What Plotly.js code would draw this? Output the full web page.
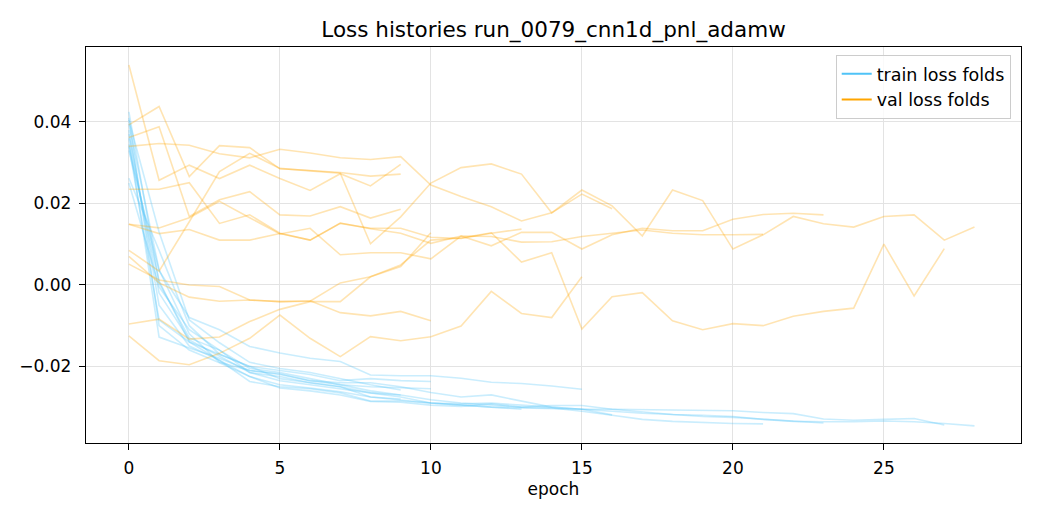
<!DOCTYPE html>
<html>
<head>
<meta charset="utf-8">
<script src="https://cdn.plot.ly/plotly-3.0.1.min.js"></script>
<style>
  html, body { margin: 0; padding: 0; background: #fff; }
  #chart { width: 1040px; height: 520px; }
</style>
</head>
<body>
<div id="chart"></div>
<script>
// loss per epoch, one array per fold
const train_folds = [
    [0.0405, 0.0130, -0.0086, -0.0142, -0.0190, -0.0205, -0.0215, -0.0230, -0.0245, -0.0258],
    [0.0425, 0.0005, -0.0130, -0.0160, -0.0205, -0.0215, -0.0230, -0.0245, -0.0260, -0.0270],
    [0.0370, -0.0020, -0.0135, -0.0175, -0.0215, -0.0225, -0.0240, -0.0250, -0.0275, -0.0280],
    [0.0395, 0.0037, -0.0120, -0.0190, -0.0210, -0.0218, -0.0235, -0.0240, -0.0240, -0.0250, -0.0264, -0.0275, -0.0270, -0.0285, -0.0300, -0.0305, -0.0319],
    [0.0410, -0.0100, -0.0160, -0.0191, -0.0225, -0.0253, -0.0260, -0.0270, -0.0286, -0.0288, -0.0295, -0.0298, -0.0292, -0.0300, -0.0296, -0.0296, -0.0305, -0.0312, -0.0318, -0.0320, -0.0323, -0.0330, -0.0335, -0.0336, -0.0336, -0.0334, -0.0336, -0.0340, -0.0346],
    [0.0262, 0.0085, -0.0100, -0.0170, -0.0200, -0.0230, -0.0240, -0.0250, -0.0265, -0.0275, -0.0290, -0.0295, -0.0300, -0.0305],
    [0.0345, 0.0010, -0.0140, -0.0185, -0.0237, -0.0250, -0.0255, -0.0265, -0.0285, -0.0285, -0.0290, -0.0295, -0.0300, -0.0302, -0.0303, -0.0305, -0.0310, -0.0315, -0.0318, -0.0323, -0.0325, -0.0330, -0.0335, -0.0339],
    [0.0250, -0.0005, -0.0110, -0.0160, -0.0215, -0.0235, -0.0245, -0.0255, -0.0265, -0.0270, -0.0282, -0.0290, -0.0295, -0.0300, -0.0302, -0.0310, -0.0320, -0.0330, -0.0335, -0.0338, -0.0340, -0.0341],
    [0.0380, -0.0050, -0.0150, -0.0185, -0.0225, -0.0245, -0.0253, -0.0262, -0.0275, -0.0283, -0.0290, -0.0292, -0.0290, -0.0295, -0.0300, -0.0305, -0.0305, -0.0306, -0.0308, -0.0309, -0.0309, -0.0313, -0.0316, -0.0329, -0.0332, -0.0330, -0.0328, -0.0344],
    [0.0340, -0.0086, -0.0140, -0.0170, -0.0200, -0.0210, -0.0220, -0.0235, -0.0230, -0.0235, -0.0237],
    [0.0360, -0.0128, -0.0155, -0.0180, -0.0210, -0.0220, -0.0235, -0.0245, -0.0250, -0.0252, -0.0255],
    [0.0330, 0.0035, -0.0080, -0.0110, -0.0151, -0.0167, -0.0180, -0.0188, -0.0221, -0.0223, -0.0223, -0.0229, -0.0239, -0.0242, -0.0248, -0.0256]
]

const val_folds = [
    [0.0540, 0.0257, 0.0294, 0.0261, 0.0294, 0.0261, 0.0232, 0.0273, 0.0243, 0.0296],
    [0.0393, 0.0438, 0.0266, 0.0342, 0.0337, 0.0285, 0.0281, 0.0276, 0.0267, 0.0272],
    [0.0362, 0.0388, 0.0168, 0.0209, 0.0229, 0.0172, 0.0169, 0.0192, 0.0164, 0.0186],
    [0.0340, 0.0347, 0.0343, 0.0322, 0.0312, 0.0333, 0.0324, 0.0312, 0.0308, 0.0315, 0.0245, 0.0217, 0.0192, 0.0157, 0.0177, 0.0223, 0.0187],
    [0.0085, 0.0034, 0.0155, 0.0278, 0.0323, 0.0286, 0.0280, 0.0274, 0.0101, 0.0167, 0.0250, 0.0288, 0.0297, 0.0272, 0.0177, 0.0233, 0.0194, 0.0120, 0.0233, 0.0207, 0.0088, 0.0123, 0.0168, 0.0150, 0.0142, 0.0168, 0.0172, 0.0110, 0.0142],
    [0.0235, 0.0235, 0.0251, 0.0151, 0.0172, 0.0127, 0.0110, 0.0151, 0.0139, 0.0139, 0.0117, 0.0114, 0.0127, 0.0137],
    [0.0149, 0.0126, 0.0136, 0.0110, 0.0110, 0.0126, 0.0110, 0.0152, 0.0138, 0.0127, 0.0102, 0.0120, 0.0096, 0.0129, 0.0129, 0.0088, 0.0123, 0.0139, 0.0133, 0.0133, 0.0161, 0.0173, 0.0176, 0.0172],
    [0.0149, 0.0140, 0.0165, 0.0205, 0.0165, 0.0125, 0.0139, 0.0074, 0.0079, 0.0079, 0.0064, 0.0120, 0.0119, 0.0105, 0.0106, 0.0119, 0.0127, 0.0135, 0.0127, 0.0123, 0.0123, 0.0124],
    [0.0070, 0.0005, -0.0030, -0.0040, -0.0037, -0.0041, -0.0040, 0.0005, 0.0020, 0.0049, 0.0110, 0.0115, 0.0128, 0.0056, 0.0079, -0.0108, -0.0029, -0.0019, -0.0088, -0.0110, -0.0095, -0.0100, -0.0077, -0.0065, -0.0057, 0.0100, -0.0027, 0.0089],
    [0.0051, 0.0012, 0.0000, -0.0004, -0.0037, -0.0041, -0.0039, -0.0068, -0.0076, -0.0065, -0.0088],
    [-0.0096, -0.0084, -0.0133, -0.0128, -0.0090, -0.0060, -0.0041, -0.0041, 0.0020, 0.0045, 0.0128],
    [-0.0125, -0.0186, -0.0196, -0.0168, -0.0131, -0.0074, -0.0131, -0.0176, -0.0127, -0.0137, -0.0127, -0.0101, -0.0016, -0.0070, -0.0080, 0.0020]
]

const train_color = '#4fc3f7'
const val_color = '#ffa500'
const run_name = 'run_0079_cnn1d_pnl_adamw'
const font_family = 'DejaVu Sans'

function foldTrace(values, color) {
    return {
        x: values.map((v, i) => i),
        y: values,
        mode: 'lines',
        line: { color: color, width: 1.6 },
        opacity: 0.3,
        showlegend: false,
        hoverinfo: 'skip'
    }
}

// legend entries drawn at full strength, like matplotlib's legend handles
function legendTrace(name, color) {
    return {
        x: [null], y: [null],
        mode: 'lines',
        name: name,
        line: { color: color, width: 2 }
    }
}

let data = []
train_folds.forEach(f => data.push(foldTrace(f, train_color)))
val_folds.forEach(f => data.push(foldTrace(f, val_color)))
data.push(legendTrace('train loss folds', train_color))
data.push(legendTrace('val loss folds', val_color))

const axis_common = {
    showline: true,
    mirror: true,
    linecolor: '#000',
    linewidth: 1.2,
    ticks: 'outside',
    ticklen: 6,
    tickwidth: 1,
    tickcolor: '#000',
    showgrid: true,
    gridcolor: '#e3e3e3',
    gridwidth: 1,
    zeroline: false,
    tickfont: { family: font_family, size: 17, color: '#000' }
}

const layout = {
    width: 1040,
    height: 520,
    margin: { l: 86, r: 19, t: 47, b: 77 },
    paper_bgcolor: '#fff',
    plot_bgcolor: '#fff',
    font: { family: font_family, color: '#000' },
    title: {
        text: 'Loss histories ' + run_name,
        font: { family: font_family, size: 21.5, color: '#000' },
        xref: 'paper', x: 0.5, xanchor: 'center',
        yref: 'container', y: 0.944, yanchor: 'middle'
    },
    xaxis: Object.assign({}, axis_common, {
        range: [-1.42, 29.54],
        tickvals: [0, 5, 10, 15, 20, 25],
        ticklabelstandoff: 3,
        title: { text: 'epoch', font: { family: font_family, size: 17, color: '#000' }, standoff: 6 }
    }),
    yaxis: Object.assign({}, axis_common, {
        range: [-0.0388, 0.0584],
        tickvals: [-0.02, 0, 0.02, 0.04],
        tickformat: '.2f',
        ticklabelstandoff: 4
    }),
    legend: {
        x: 0.989, xanchor: 'right',
        y: 0.98, yanchor: 'top',
        bgcolor: 'rgba(255,255,255,0.8)',
        bordercolor: '#cccccc',
        borderwidth: 1,
        font: { family: font_family, size: 17.5, color: '#000' }
    }
}

Plotly.newPlot('chart', data, layout, { displayModeBar: false, staticPlot: true })
</script>
</body>
</html>
